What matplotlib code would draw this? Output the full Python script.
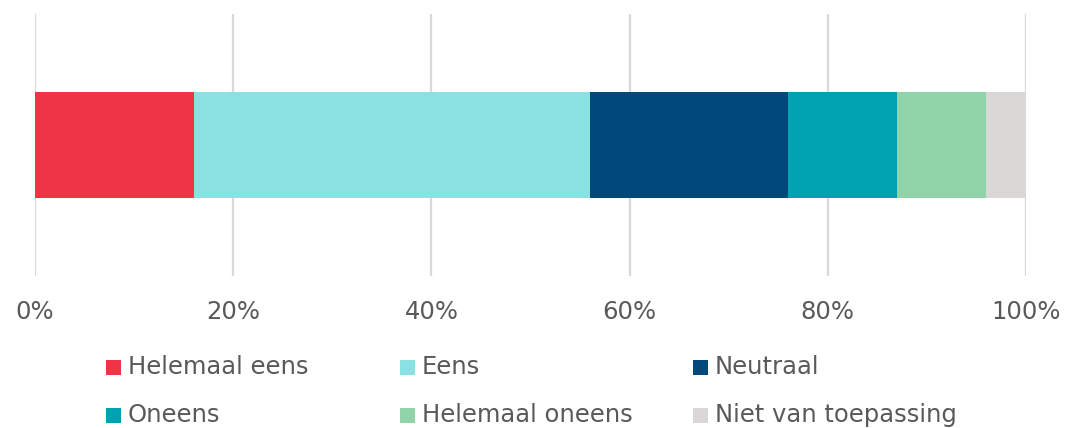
import matplotlib.pyplot as plt
from matplotlib.patches import Rectangle

# share of answers per category, in percent
categories = ['Helemaal eens', 'Eens', 'Neutraal', 'Oneens', 'Helemaal oneens', 'Niet van toepassing']
values = [16, 40, 20, 11, 9, 4]
colors = ['#ee3446', '#8ae1e1', '#00477a', '#00a1b0', '#91d4aa', '#d9d8d6']
ticks = [0, 20, 40, 60, 80, 100]
tick_labels = ['0%', '20%', '40%', '60%', '80%', '100%']

plt.rcParams['font.family'] = ['DejaVu Sans']
text_color = '#595959'

W, H = 1066, 428
fig = plt.figure(figsize=(W / 100, H / 100), dpi=100)
ax = fig.add_axes([35 / W, 1 - 276 / H, (1026 - 35) / W, (276 - 14) / H])

left = 0
for name, v, c in zip(categories, values, colors):
    ax.barh(0, v, left=left, height=0.81, color=c, zorder=2)
    left += v

ax.set_xlim(0, 100)
ax.set_ylim(-1, 1)
ax.set_xticks(ticks)
ax.set_xticklabels(tick_labels, fontsize=17.5, color=text_color)
ax.tick_params(axis='x', length=0, pad=17)
ax.set_yticks([])
ax.grid(axis='x', color='#d9d9d9', linewidth=1.6, zorder=0)
for s in ax.spines.values():
    s.set_visible(False)

# legend in fixed-width columns, two rows
for i, (name, c) in enumerate(zip(categories, colors)):
    col, row = i % 3, i // 3
    x0 = 106 + col * 293.5
    yc = 367 + row * 48
    fig.patches.append(Rectangle((x0 / W, 1 - (yc + 7.5) / H), 15 / W, 15 / H,
                                 transform=fig.transFigure, facecolor=c, edgecolor='none'))
    fig.text((x0 + 22) / W, 1 - yc / H, name, fontsize=17.5, color=text_color,
             va='center', ha='left')

fig.savefig('out.png', dpi=100)
